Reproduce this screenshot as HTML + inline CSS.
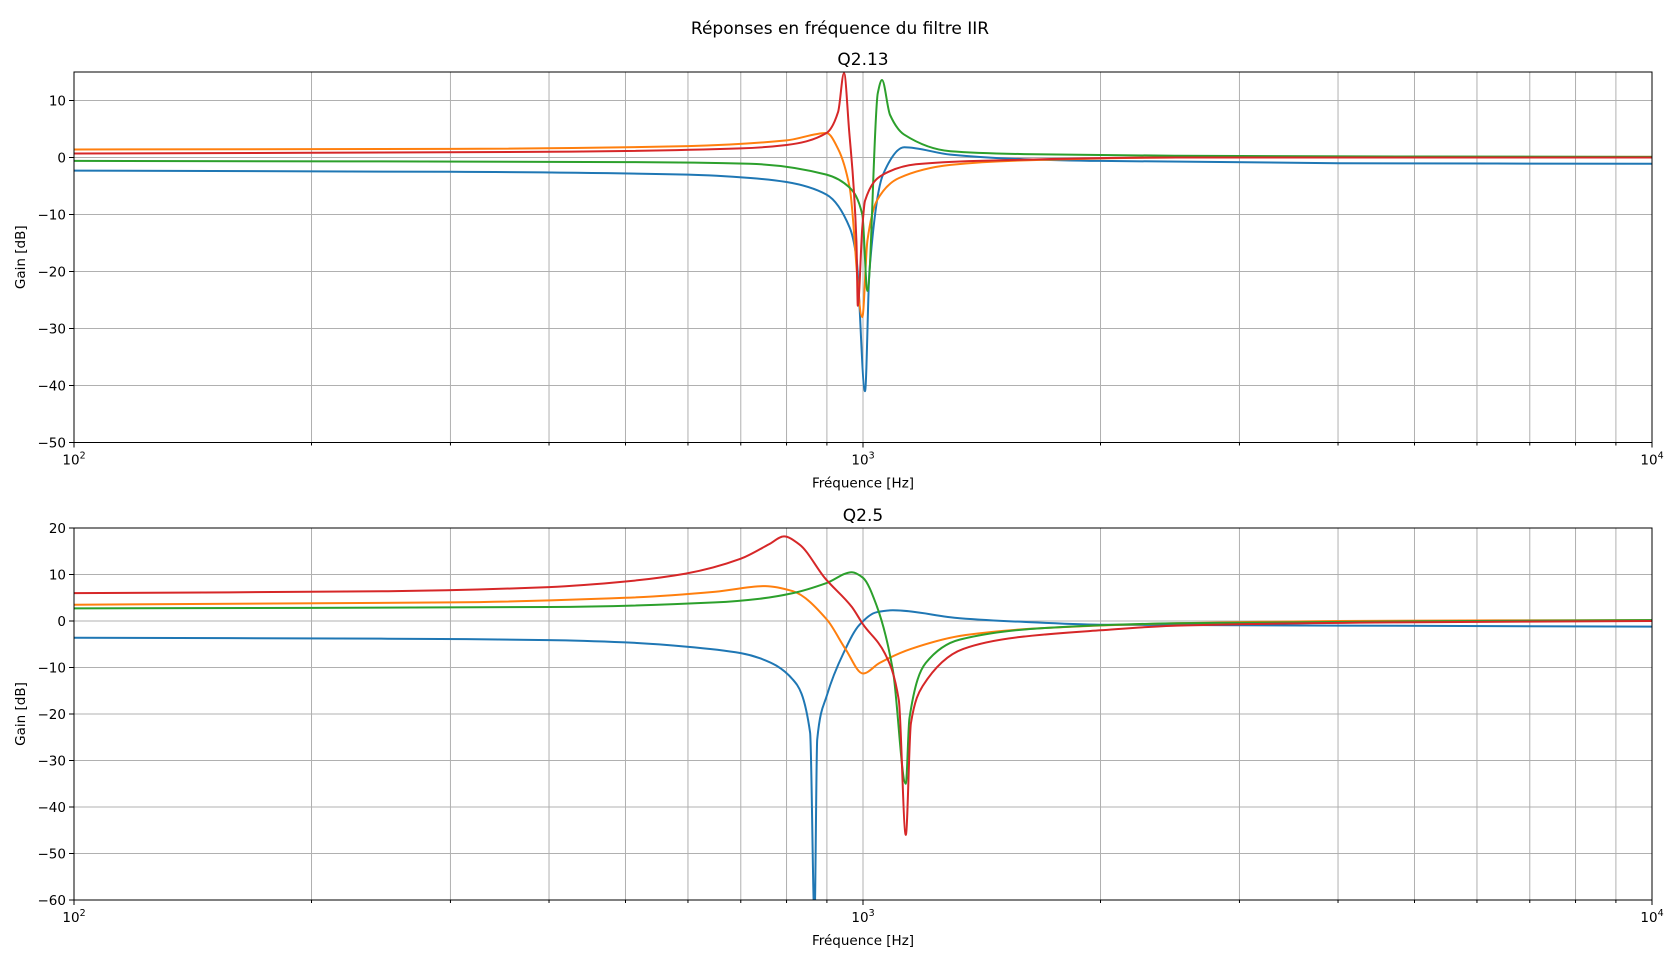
<!DOCTYPE html>
<html><head><meta charset="utf-8">
<style>
html,body{margin:0;padding:0;background:#fff;}
svg{display:block;font-family:"DejaVu Sans","Liberation Sans",sans-serif;}
</style></head>
<body>
<svg id="chart" width="1680" height="963" viewBox="0 0 1680 963">
<text x="840" y="34" font-size="17" text-anchor="middle">Réponses en fréquence du filtre IIR</text>
</svg>
<script>
// ---------- data ----------
const p1Title = "Q2.13";
const p2Title = "Q2.5";
const p1Blue_f = [100,300,600,720,800,899,962,981,1006,1019,1060,1128,1291,1600,2000,4000,10000];
const p1Blue_g = [-2.3,-2.5,-3,-3.6,-4.3,-6.5,-12.3,-17.5,-41,-20,-3,1.8,0.5,-0.3,-0.6,-1,-1.1];
const p1Orange_f = [100,300,600,800,899,930,962,998,1013,1041,1111,1291,1600,2500,10000];
const p1Orange_g = [1.4,1.5,2,3,4.3,1.5,-5.3,-28,-14.6,-7.6,-3.6,-1.3,-0.5,0,0.1];
const p1Red_f = [100,400,700,800,899,930,946,960,981,985,998,1006,1060,1167,1400,2500,10000];
const p1Red_g = [0.7,1,1.6,2.2,4.3,8,14.8,5,-14.6,-26,-12.3,-7.6,-3,-1.2,-0.6,0,0];
const p1Green_f = [100,500,719,899,962,998,1013,1044,1057,1082,1128,1291,1600,2500,10000];
const p1Green_g = [-0.6,-0.8,-1.1,-3,-5.3,-10,-23.4,11.3,13.6,7.5,4,1.1,0.6,0.3,0.1];

const p2Blue_f = [100,250,400,500,596,700,740,815,857,868,875,900,944,990,1041,1091,1326,1600,2000,4000,10000];
const p2Blue_g = [-3.6,-3.8,-4.1,-4.6,-5.5,-6.9,-8,-12.6,-24,-64,-25.5,-16,-7,-0.8,1.9,2.3,0.6,-0.2,-0.8,-1,-1.2];
const p2Orange_f = [100,300,500,650,752,815,900,950,1000,1050,1150,1350,1700,2500,4000,10000];
const p2Orange_g = [3.5,4,5,6.3,7.5,6.4,0.3,-6,-11.3,-9,-6,-3,-1.5,-0.5,0,0.2];
const p2Green_f = [100,400,650,740,815,900,968,1000,1041,1091,1133,1145,1201,1326,1700,2500,10000];
const p2Green_g = [2.7,3,4,4.8,6,8.2,10.5,9.3,3.2,-10.5,-35,-21,-9,-4,-1.5,-0.5,0.2];
const p2Red_f = [100,250,400,500,596,700,760,794,830,895,968,1000,1066,1110,1133,1150,1190,1340,1570,2000,2500,4700,10000];
const p2Red_g = [6,6.4,7.3,8.5,10.2,13.4,16.5,18.2,16.5,9.2,3,-0.7,-7,-17,-46,-22,-14,-6,-3.5,-2,-1,-0.3,0];

const p1YTicks = [-50,-40,-30,-20,-10,0,10];
const p2YTicks = [-60,-50,-40,-30,-20,-10,0,10,20];
const xTickLabels = ["2","3","4"];

const colors = {blue:"#1f77b4", orange:"#ff7f0e", green:"#2ca02c", red:"#d62728"};

// ---------- drawing ----------
const NS = "http://www.w3.org/2000/svg";
const svg = document.getElementById("chart");
function mk(tag, attrs, parent){
  const e = document.createElementNS(NS, tag);
  for (const k in attrs) e.setAttribute(k, attrs[k]);
  (parent||svg).appendChild(e);
  return e;
}
function monoPath(px, py){
  const n = px.length;
  if (n < 3) return px.map((x,i)=>(i?"L":"M")+x+","+py[i]).join("");
  const d = [], m = new Array(n);
  for (let i = 0; i < n-1; i++) d.push((py[i+1]-py[i])/(px[i+1]-px[i]));
  m[0] = d[0]; m[n-1] = d[n-2];
  for (let i = 1; i < n-1; i++) {
    if (d[i-1]*d[i] <= 0) m[i] = 0;
    else { const w1 = 2*(px[i+1]-px[i])+(px[i]-px[i-1]), w2 = (px[i+1]-px[i])+2*(px[i]-px[i-1]);
      m[i] = (w1+w2)/(w1/d[i-1]+w2/d[i]); }
  }
  let s = "M"+px[0].toFixed(1)+","+py[0].toFixed(1);
  for (let i = 0; i < n-1; i++) {
    const h = (px[i+1]-px[i])/3;
    s += "C"+(px[i]+h).toFixed(1)+","+(py[i]+m[i]*h).toFixed(1)+" "+(px[i+1]-h).toFixed(1)+","+(py[i+1]-m[i+1]*h).toFixed(1)+" "+px[i+1].toFixed(1)+","+py[i+1].toFixed(1);
  }
  return s;
}
const L = 74, R = 1652;
function drawPanel(id, top, bottom, ymin, ymax, yTicks, title, series){
  const g = mk("g", {});
  
  
  const xs = f => L + (Math.log10(f) - 2) / 2 * (R - L);
  const ys = v => bottom - (v - ymin) / (ymax - ymin) * (bottom - top);
  for (let d = 2; d <= 3; d++) for (let m = 1; m <= 9; m++) {
    const x = xs(m * Math.pow(10, d));
    const ln = mk("line", {x1:x, x2:x, y1:top, y2:bottom, stroke:"#b0b0b0", "stroke-width":1}, g);
    
    
    mk("line", {x1:x, x2:x, y1:bottom, y2:bottom + (m === 1 ? 5 : 3), stroke:"#000", "stroke-width":1}, g);
  }
  mk("line", {x1:R, x2:R, y1:bottom, y2:bottom + 5, stroke:"#000"}, g);
  yTicks.forEach(v => {
    const y = ys(v);
    const ln = mk("line", {x1:L, x2:R, y1:y, y2:y, stroke:"#b0b0b0", "stroke-width":1}, g);
    
    
    mk("line", {x1:L - 5, x2:L, y1:y, y2:y, stroke:"#000"}, g);
    const t = mk("text", {x:L - 8, y:y + 5, "font-size":13.5, "text-anchor":"end"}, g);
    t.textContent = v < 0 ? "\u2212" + Math.abs(v) : String(v);
    
    
  });
  xTickLabels.forEach((e, i) => {
    const x = xs(Math.pow(10, i + 2));
    const t = mk("text", {x:x, y:bottom + 22, "font-size":13.5, "text-anchor":"middle"}, g);
    t.textContent = "10";
    const s = mk("tspan", {dy:-6, "font-size":9.5}, t);
    s.textContent = e;
    
    
  });
  const cp = mk("clipPath", {id:id + "-clip"}, g);
  mk("rect", {x:L, y:top, width:R - L, height:bottom - top}, cp);
  series.forEach(s => {
    const px = s.f.map(xs), py = s.g.map(ys);
    const p = mk("path", {d:monoPath(px, py), fill:"none", stroke:s.c, "stroke-width":2, "stroke-linejoin":"round", "clip-path":"url(#" + id + "-clip)"}, g);
    
    
  });
  const fr = mk("rect", {x:L, y:top, width:R - L, height:bottom - top, fill:"none", stroke:"#000", "stroke-width":1}, g);
  
  
  const tt = mk("text", {x:(L + R) / 2, y:top - 7, "font-size":17, "text-anchor":"middle"}, g);
  tt.textContent = title;
  
  
  const xl = mk("text", {x:(L + R) / 2, y:bottom + 45, "font-size":13.5, "text-anchor":"middle"}, g);
  xl.textContent = "Fréquence [Hz]";
  
  
  const cy = (top + bottom) / 2;
  const yl = mk("text", {x:25, y:cy, "font-size":13.5, "text-anchor":"middle", transform:"rotate(-90 25 " + cy + ")"}, g);
  yl.textContent = "Gain [dB]";
  
  
}
drawPanel("q2-13", 72, 442.5, -50, 15, p1YTicks, p1Title, [
  {n:"blue", c:colors.blue, f:p1Blue_f, g:p1Blue_g},
  {n:"orange", c:colors.orange, f:p1Orange_f, g:p1Orange_g},
  {n:"green", c:colors.green, f:p1Green_f, g:p1Green_g},
  {n:"red", c:colors.red, f:p1Red_f, g:p1Red_g}
]);
drawPanel("q2-5", 528, 900, -60, 20, p2YTicks, p2Title, [
  {n:"blue", c:colors.blue, f:p2Blue_f, g:p2Blue_g},
  {n:"orange", c:colors.orange, f:p2Orange_f, g:p2Orange_g},
  {n:"green", c:colors.green, f:p2Green_f, g:p2Green_g},
  {n:"red", c:colors.red, f:p2Red_f, g:p2Red_g}
]);
</script>
</body></html>
